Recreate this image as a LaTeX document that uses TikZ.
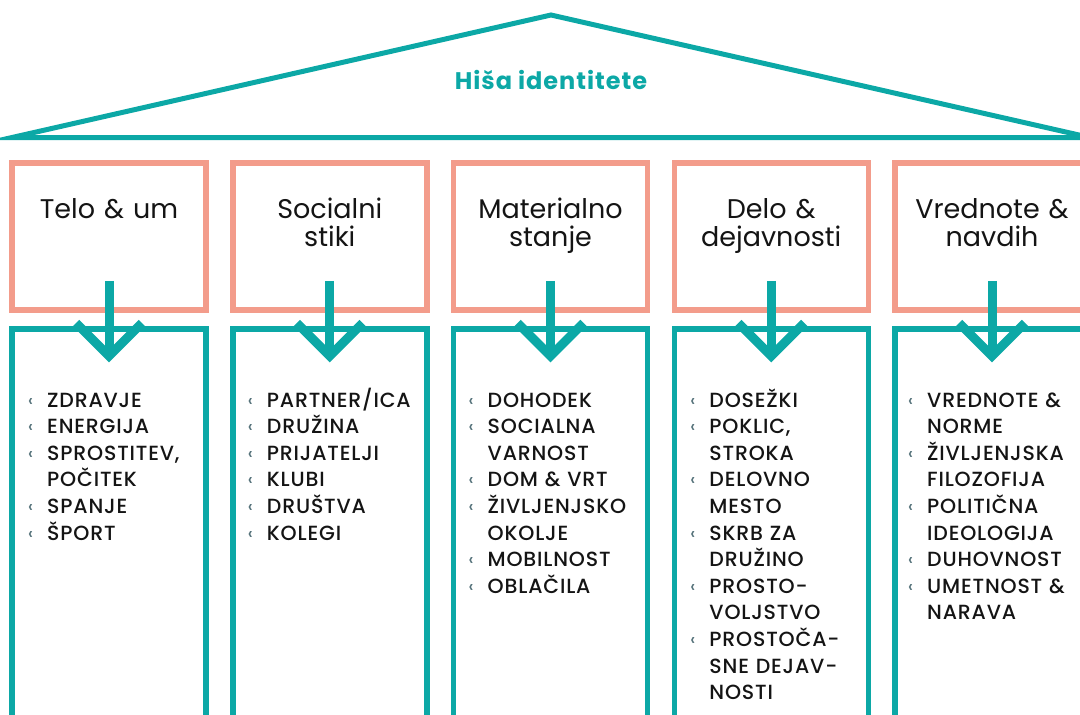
\documentclass[tikz,border=0pt]{standalone}
\usepackage{fontspec}
\setmainfont{Poppins}
\IfFontExistsTF{Poppins Medium}{\newfontfamily\listfont{Poppins Medium}}{\newfontfamily\listfont{Poppins}}
\usetikzlibrary{positioning}
\definecolor{housecol}{HTML}{0CA8A6}
\definecolor{pillarcol}{HTML}{F39C8B}
\definecolor{bulletcol}{HTML}{55727A}
\definecolor{inkcol}{HTML}{141414}
\newcommand{\itm}{\leavevmode\llap{\raisebox{1pt}{\textcolor{bulletcol}{\fontsize{17}{17}\selectfont ‹}}\hspace{14pt}}}

\begin{document}
\begin{tikzpicture}[x=1pt, y=-1pt,
    roof/.style = {draw=housecol, line width=5pt, line join=miter},
    topbox/.style = {draw=pillarcol, line width=5.5pt, minimum width=194pt, minimum height=147pt, inner sep=0pt},
    basebox/.style = {draw=housecol, line width=5.5pt, minimum width=194pt, minimum height=420pt, inner sep=0pt},
    shaft/.style = {draw=housecol, line width=9pt},
    chev/.style = {draw=housecol, line width=9pt, line join=miter},
    title/.style = {anchor=base, inner sep=0pt, text=housecol, font=\fontsize{24}{24}\selectfont\bfseries\addfontfeatures{LetterSpace=4}},
    boxlabel/.style = {anchor=base, text width=190pt, align=center, inner sep=0pt, text=inkcol, font=\fontsize{27}{28}\selectfont},
    items/.style = {anchor=base west, text width=170pt, align=left, inner sep=0pt, text=inkcol, font=\listfont\fontsize{20.5}{26.6}\selectfont\addfontfeatures{LetterSpace=4}}
  ]
  \clip (0,0) rectangle (1080,715);

  % roof
  \coordinate (apex) at (551,15);
  \coordinate (eaveL) at (12,137.5);
  \coordinate (eaveR) at (1090,137.5);
  \draw[roof] (eaveL) -- (apex) -- (eaveR) -- cycle;
  \node[title] (house) at (551,89) {Hiša identitete};

  % pillars
  \foreach \i/\lab in {1/{Telo \& um}, 2/{Socialni\\stiki}, 3/{Materialno\\stanje},
                       4/{Delo \&\\dejavnosti}, 5/{Vrednote \&\\navdih}} {
    \pgfmathsetmacro{\cx}{109+220.75*(\i-1)}
    \node[topbox] (t\i) at (\cx,236.5) {};
    \node[basebox] (b\i) at (\cx,539) {};
    \node[boxlabel] (lab\i) at (\cx,218) {\lab};
    \coordinate (tip\i) at (\cx,356);
    \draw[shaft] ([yshift=32pt]t\i.south) -- (tip\i);
    \draw[chev] ([shift={(-33,-33)}]tip\i) -- (tip\i) -- ([shift={(33,-33)}]tip\i);
  }

  % lists
  \node[items] (l1) at (47,407) {\itm ZDRAVJE\\ \itm ENERGIJA\\ \itm SPROSTITEV,\\ POČITEK\\ \itm SPANJE\\ \itm ŠPORT};
  \node[items] (l2) at (266.75,407) {\itm PARTNER/ICA\\ \itm DRUŽINA\\ \itm PRIJATELJI\\ \itm KLUBI\\ \itm DRUŠTVA\\ \itm KOLEGI};
  \node[items] (l3) at (487.5,407) {\itm DOHODEK\\ \itm SOCIALNA\\ VARNOST\\ \itm DOM \& VRT\\ \itm ŽIVLJENJSKO\\ OKOLJE\\ \itm MOBILNOST\\ \itm OBLAČILA};
  \node[items] (l4) at (709.25,407) {\itm DOSEŽKI\\ \itm POKLIC,\\ STROKA\\ \itm DELOVNO\\ MESTO\\ \itm SKRB ZA\\ DRUŽINO\\ \itm PROSTO-\\ VOLJSTVO\\ \itm PROSTOČA-\\ SNE DEJAV-\\ NOSTI};
  \node[items] (l5) at (927,407) {\itm VREDNOTE \&\\ NORME\\ \itm ŽIVLJENJSKA\\ FILOZOFIJA\\ \itm POLITIČNA\\ IDEOLOGIJA\\ \itm DUHOVNOST\\ \itm UMETNOST \&\\ NARAVA};
\end{tikzpicture}
\end{document}
